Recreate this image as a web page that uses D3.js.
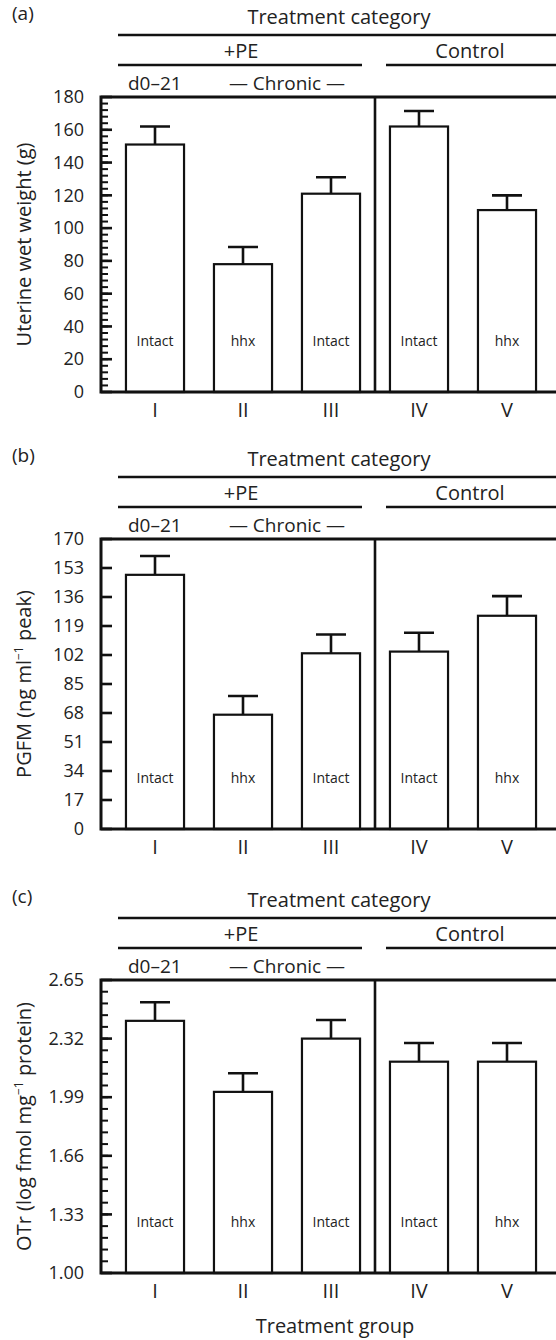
<!DOCTYPE html>
<html>
<head>
<meta charset="utf-8">
<script src="https://cdn.jsdelivr.net/npm/d3@7"></script>
<style>
body { margin: 0; background: #fff; }
text { font-family: "Open Sans", "Liberation Sans", sans-serif; fill: #222; }
</style>
</head>
<body>
<div id="chart"></div>
<script>
// groups and bar labels
var groups = ["I", "II", "III", "IV", "V"]
var groupTypes = ["Intact", "hhx", "Intact", "Intact", "hhx"]

// (a) uterine wet weight
var uterineWeight = [151, 78, 121, 162, 111]
var uterineWeightSE = [11, 10.5, 10, 9.5, 9]
var uterineTicks = [0, 20, 40, 60, 80, 100, 120, 140, 160, 180]

// (b) PGFM
var pgfm = [149, 67, 103, 104, 125]
var pgfmSE = [11, 11, 11, 11, 11.5]
var pgfmTicks = [0, 17, 34, 51, 68, 85, 102, 119, 136, 153, 170]

// (c) OTr
var otr = [2.42, 2.02, 2.32, 2.19, 2.19]
var otrSE = [0.105, 0.105, 0.105, 0.105, 0.105]
var otrTicks = ["1.00", "1.33", "1.66", "1.99", "2.32", "2.65"]

var width = 556, height = 1340
var axisX = 101

var svg = d3.select("#chart").append("svg")
	.attr("width", width)
	.attr("height", height)

var xScale = d3.scaleBand()
	.domain(groups)
	.range([111, 551])
	.paddingInner(0.34)
	.paddingOuter(0.17)

// divider between +PE and Control
var divX = (xScale("III") + xScale.bandwidth() + xScale("IV")) / 2

var panels = [
	{letter: "(a)", top: 97, bottom: 392, values: uterineWeight, se: uterineWeightSE,
	 ticks: uterineTicks, minor: 4, title: ["Uterine wet weight (g)"]},
	{letter: "(b)", top: 539, bottom: 829, values: pgfm, se: pgfmSE,
	 ticks: pgfmTicks, minor: null, title: ["PGFM (ng ml", "\u22121", " peak)"]},
	{letter: "(c)", top: 980, bottom: 1273, values: otr, se: otrSE,
	 ticks: otrTicks.map(Number), minor: 0.066, title: ["OTr (log fmol mg", "\u22121", " protein)"]}
]

var tickLayer = []

panels.forEach(function(p, i) {
	var g = svg.append("g")
	var lo = p.ticks[0], hi = p.ticks[p.ticks.length - 1]

	var y = d3.scaleLinear()
		.domain([lo, hi])
		.range([p.bottom, p.top])

	// header: treatment category rows
	g.append("text").attr("x", 12).attr("y", p.top - 77)
		.style("font-size", "19px").text(p.letter)
	g.append("text").attr("x", 339).attr("y", p.top - 73)
		.attr("text-anchor", "middle").style("font-size", "20px").text("Treatment category")
	g.append("line").attr("x1", 118).attr("x2", width).attr("y1", p.top - 62).attr("y2", p.top - 62)
		.attr("stroke", "#111").attr("stroke-width", 2.5)
	g.append("text").attr("x", 241).attr("y", p.top - 39)
		.attr("text-anchor", "middle").style("font-size", "20px").text("+PE")
	g.append("text").attr("x", 470).attr("y", p.top - 39)
		.attr("text-anchor", "middle").style("font-size", "20px").text("Control")
	g.append("line").attr("x1", 118).attr("x2", divX - 13).attr("y1", p.top - 32).attr("y2", p.top - 32)
		.attr("stroke", "#111").attr("stroke-width", 2.5)
	g.append("line").attr("x1", divX + 11).attr("x2", width).attr("y1", p.top - 32).attr("y2", p.top - 32)
		.attr("stroke", "#111").attr("stroke-width", 2.5)
	g.append("text").attr("x", 128).attr("y", p.top - 7)
		.style("font-size", "19px").text("d0\u201321")
	g.append("text").attr("x", 287).attr("y", p.top - 7)
		.attr("text-anchor", "middle").style("font-size", "19px").text("\u2014 Chronic \u2014")

	// y title
	var cy = (p.top + p.bottom) / 2
	var t = g.append("text")
		.attr("transform", "translate(31," + cy + ") rotate(-90)")
		.attr("text-anchor", "middle")
		.style("font-size", "20px")
	t.append("tspan").text(p.title[0])
	if (p.title.length > 1) {
		t.append("tspan").attr("dy", -8).style("font-size", "12px").text(p.title[1])
		t.append("tspan").attr("dy", 8).text(p.title[2])
	}

	// bars
	var cx = function(j) { return xScale(groups[j]) + xScale.bandwidth() / 2 }
	g.selectAll("rect.bar").data(p.values).enter().append("rect")
		.attr("class", "bar")
		.attr("x", function(d, j) { return xScale(groups[j]) })
		.attr("y", function(d) { return y(d) })
		.attr("width", xScale.bandwidth())
		.attr("height", function(d) { return p.bottom - y(d) })
		.attr("fill", "#fff").attr("stroke", "#111").attr("stroke-width", 2.2)

	// error bars
	g.selectAll("path.err").data(p.values).enter().append("path")
		.attr("class", "err")
		.attr("d", function(d, j) {
			var y0 = y(d), y1 = y(d + p.se[j])
			return "M" + cx(j) + "," + y0 + "V" + y1 + "M" + (cx(j) - 15) + "," + y1 + "H" + (cx(j) + 15)
		})
		.attr("fill", "none").attr("stroke", "#111").attr("stroke-width", 2.6)

	// bar type labels
	g.selectAll("text.lab").data(groupTypes).enter().append("text")
		.attr("class", "lab")
		.attr("x", function(d, j) { return cx(j) })
		.attr("y", p.bottom - 46)
		.attr("text-anchor", "middle")
		.style("font-size", "14px")
		.text(function(d) { return d })

	// group numerals
	g.selectAll("text.grp").data(groups).enter().append("text")
		.attr("class", "grp")
		.attr("x", function(d, j) { return cx(j) })
		.attr("y", p.bottom + 25)
		.attr("text-anchor", "middle")
		.style("font-size", "20px")
		.text(function(d) { return d })

	// frame
	g.append("path")
		.attr("d", "M" + width + "," + p.top + "H" + axisX + "V" + p.bottom + "H" + width)
		.attr("fill", "none").attr("stroke", "#111").attr("stroke-width", 3)
	g.append("line").attr("x1", divX).attr("x2", divX).attr("y1", p.top).attr("y2", p.bottom)
		.attr("stroke", "#111").attr("stroke-width", 2.6)

	// tick labels from the axis generator
	var yAxis = g.append("g")
		.attr("transform", "translate(" + axisX + ",0)")
		.call(d3.axisLeft(y).tickValues(p.ticks).tickSize(0).tickPadding(17)
			.tickFormat(function(d, j) { return i == 2 ? otrTicks[j] : d }))
	yAxis.select(".domain").remove()
	yAxis.selectAll("text").style("font-size", "18px").style("font-family", "'Open Sans', sans-serif").attr("fill", "#222")

	// collect inward tick marks (minor then major)
	var minorVals = p.minor ? d3.range(lo, hi + p.minor / 2, p.minor) : []
	minorVals.forEach(function(v) { tickLayer.push({y: y(v), len: 7, th: 2}) })
	p.ticks.forEach(function(v) { tickLayer.push({y: y(v), len: 11, th: 2.6}) })
})

// tick marks drawn straight on the svg, on top of everything
svg.selectAll(".tk").data(tickLayer).enter().append("rect")
	.attr("x", axisX)
	.attr("width", function(d) { return d.len })
	.attr("y", function(d) { return d.y - d.th / 2 })
	.attr("height", function(d) { return d.th })
	.attr("fill", "#111")

svg.append("text").attr("x", 335).attr("y", 1333)
	.attr("text-anchor", "middle").style("font-size", "20px").text("Treatment group")
</script>
</body>
</html>
